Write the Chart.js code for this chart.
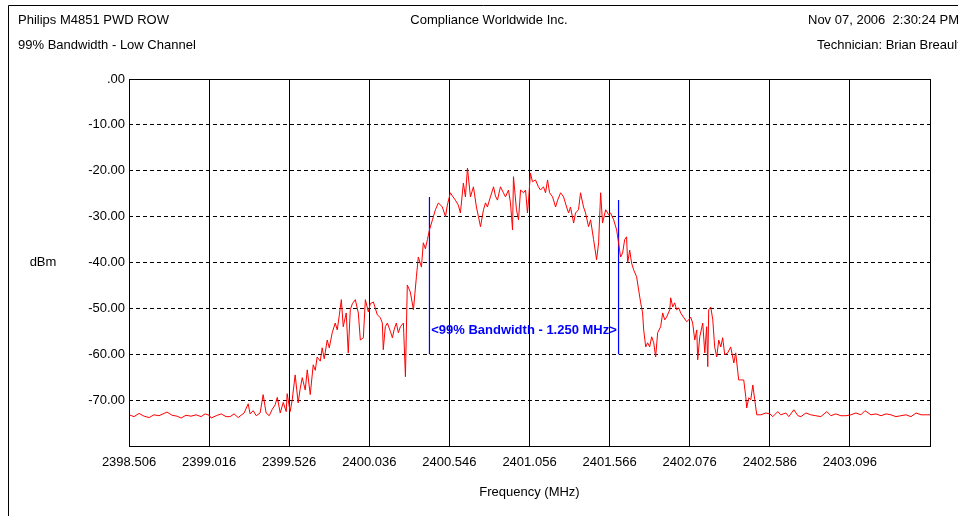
<!DOCTYPE html>
<html>
<head>
<meta charset="utf-8">
<script src="https://cdn.jsdelivr.net/npm/chart.js@4.4.0/dist/chart.umd.min.js"></script>
<style>
  html, body { margin: 0; padding: 0; background: #ffffff; }
  #wrap { width: 958px; height: 516px; position: relative; }
</style>
</head>
<body>
<div id="wrap"><canvas id="c" width="958" height="516"></canvas></div>
<script>
// ---------- data ----------
const freqMHz = [
  2398.506,2398.538,2398.570,2398.602,2398.634,2398.665,2398.697,2398.729,2398.748,2398.780,2398.812,2398.838,2398.869,2398.901,2398.933,2398.965,2398.991,
  2399.016,2399.029,2399.061,2399.093,2399.124,2399.150,2399.175,2399.201,2399.220,2399.239,2399.265,2399.277,2399.297,2399.316,2399.341,2399.360,2399.379,2399.399,2399.418,2399.437,2399.450,2399.469,2399.488,2399.507,2399.513,
  2399.532,2399.545,2399.564,2399.583,2399.596,2399.609,2399.628,2399.641,2399.660,2399.679,2399.692,2399.704,2399.724,2399.736,2399.749,2399.768,2399.781,2399.800,2399.819,2399.832,2399.845,2399.858,2399.870,2399.889,2399.902,2399.915,2399.928,2399.947,2399.966,2399.979,2399.998,2400.011,2400.030,2400.042,
  2400.062,2400.087,2400.106,2400.119,2400.125,2400.138,2400.151,2400.170,2400.183,2400.195,2400.208,2400.221,2400.234,2400.253,2400.266,2400.278,2400.297,2400.317,2400.336,2400.348,2400.368,2400.380,2400.393,2400.406,2400.419,2400.438,2400.457,2400.476,2400.501,2400.521,2400.533,2400.552,
  2400.565,2400.584,2400.603,2400.616,2400.635,2400.648,2400.661,2400.680,2400.699,2400.718,2400.731,2400.744,2400.763,2400.776,2400.788,2400.807,2400.827,2400.839,2400.852,2400.871,2400.890,2400.903,2400.922,2400.935,2400.948,2400.954,2400.973,2400.986,2400.999,2401.018,2401.031,2401.043,2401.050,2401.062,
  2401.075,2401.094,2401.113,2401.126,2401.145,2401.158,2401.171,2401.184,2401.203,2401.222,2401.235,2401.254,2401.273,2401.292,2401.305,2401.317,2401.337,2401.349,2401.368,2401.381,2401.400,2401.413,2401.432,2401.445,2401.464,2401.483,2401.496,2401.509,2401.521,2401.541,2401.560,2401.572,
  2401.592,2401.611,2401.623,2401.636,2401.649,2401.662,2401.674,2401.681,2401.694,2401.706,2401.719,2401.738,2401.751,2401.764,2401.776,2401.783,2401.796,2401.808,2401.821,2401.834,2401.847,2401.859,2401.872,2401.891,2401.904,2401.917,2401.929,2401.949,2401.955,2401.968,2401.980,2401.993,2402.006,2402.019,2402.038,2402.057,2402.070,2402.082,
  2402.095,2402.108,2402.121,2402.127,2402.140,2402.159,2402.172,2402.184,2402.191,2402.197,2402.210,2402.223,2402.235,2402.248,2402.261,2402.274,2402.286,2402.299,2402.318,2402.337,2402.357,2402.369,2402.388,2402.401,2402.420,2402.433,2402.439,2402.452,2402.465,2402.478,2402.490,2402.503,
  2402.529,2402.561,2402.586,2402.605,2402.637,2402.656,2402.688,2402.707,2402.739,2402.765,2402.784,2402.816,2402.847,2402.879,2402.911,2402.949,2402.975,2403.006,2403.039,2403.071,2403.102,2403.134,2403.166,2403.192,2403.230,2403.262,2403.294,2403.326,2403.357,2403.389,2403.421,2403.453,2403.485,2403.517,2403.549,2403.581,2403.606
];
const powerDbm = [
  -73.2,-73.6,-72.9,-73.5,-73.8,-73.2,-73.4,-72.9,-72.6,-73.3,-73.5,-73.9,-73.3,-73.5,-73.2,-73.6,-73.0,
  -73.3,-73.9,-73.4,-73.0,-73.6,-73.6,-73.0,-73.8,-73.3,-72.8,-70.8,-73.0,-72.3,-73.4,-72.8,-68.8,-72.8,-73.4,-72.0,-71.0,-69.4,-72.8,-70.5,-72.5,-68.6,
  -72.5,-70.0,-64.5,-70.6,-67.5,-65.1,-67.8,-63.4,-68.8,-62.3,-63.5,-60.6,-61.5,-58.6,-61.0,-56.9,-58.6,-55.3,-53.2,-54.7,-51.5,-48.1,-54.0,-51.0,-59.7,-50.3,-49.0,-48.1,-51.0,-56.9,-56.4,-48.1,-50.8,-49.0,
  -48.6,-51.4,-52.0,-53.2,-59.0,-54.0,-53.2,-55.0,-56.4,-54.5,-53.2,-55.3,-54.0,-53.2,-64.9,-44.9,-46.4,-50.3,-43.1,-38.8,-41.0,-35.7,-37.0,-35.0,-32.9,-30.7,-28.5,-27.0,-27.9,-30.0,-27.5,-24.8,
  -25.5,-26.4,-27.5,-29.2,-22.7,-25.7,-19.4,-25.7,-23.5,-27.9,-30.0,-32.2,-28.5,-27.0,-27.9,-25.7,-23.5,-25.5,-26.4,-23.5,-24.8,-25.7,-24.2,-27.0,-32.9,-21.3,-28.5,-30.7,-24.2,-24.8,-24.2,-29.2,-26.4,-20.5,
  -22.4,-22.0,-23.5,-24.2,-23.5,-24.8,-22.0,-24.8,-25.7,-27.9,-26.4,-24.8,-25.7,-27.9,-29.2,-27.9,-31.4,-29.2,-28.5,-24.8,-27.9,-29.2,-32.2,-30.7,-35.0,-39.4,-35.7,-24.8,-31.4,-28.5,-29.6,-29.2,
  -30.7,-32.9,-35.7,-38.8,-37.9,-35.0,-34.4,-40.1,-37.3,-40.1,-41.6,-43.1,-46.0,-48.8,-51.0,-54.7,-58.4,-57.5,-58.4,-56.2,-57.5,-60.6,-55.3,-54.0,-51.0,-52.5,-51.9,-50.3,-47.7,-49.7,-48.8,-50.3,-49.9,-51.0,-52.0,-52.9,-52.5,-51.9,
  -53.2,-56.9,-54.7,-61.2,-56.2,-53.2,-59.7,-54.0,-62.7,-50.3,-49.7,-52.5,-58.4,-60.6,-56.9,-58.4,-56.4,-60.1,-59.7,-58.4,-61.9,-59.7,-65.6,-65.6,-65.6,-69.3,-71.7,-69.5,-69.9,-66.7,-69.9,-73.2,
  -73.2,-72.8,-73.0,-73.6,-72.5,-73.2,-72.8,-73.6,-72.1,-73.4,-73.6,-72.8,-73.2,-73.4,-73.6,-72.5,-73.4,-73.0,-73.4,-73.4,-73.2,-72.8,-73.2,-72.3,-73.2,-73.0,-73.4,-73.0,-73.2,-73.6,-73.4,-73.2,-73.6,-72.8,-73.2,-73.2,-73.2
];
const xTickValues = [2398.506, 2399.016, 2399.526, 2400.036, 2400.546, 2401.056, 2401.566, 2402.076, 2402.586, 2403.096, 2403.606];
const xTickLabels = ['2398.506','2399.016','2399.526','2400.036','2400.546','2401.056','2401.566','2402.076','2402.586','2403.096',''];
const yTickValues = [-80, -70, -60, -50, -40, -30, -20, -10, 0];
const yTickLabels = ['', '-70.00', '-60.00', '-50.00', '-40.00', '-30.00', '-20.00', '-10.00', '.00'];
const bwFreqs = [2400.419, 2401.623];
const bwTops = [-25.7, -26.4];
const bwBottom = -60;
const bwLabelLevel = -54.7;
const bwLabel = '<99% Bandwidth - 1.250 MHz>';
const headerLeft = ['Philips M4851 PWD ROW', '99% Bandwidth - Low Channel'];
const headerCenter = 'Compliance Worldwide Inc.';
const headerRight = ['Nov 07, 2006  2:30:24 PM', 'Technician: Brian Breault'];
const yTitle = 'dBm';
const xTitle = 'Frequency (MHz)';

// ---------- chart ----------
const FONT = '"Liberation Sans", Arial, sans-serif';
const n = Math.min(freqMHz.length, powerDbm.length);
const trace = [];
for (let i = 0; i < n; i++) trace.push({ x: freqMHz[i], y: powerDbm[i] });

const decorPlugin = {
  id: 'decor',
  beforeDraw(chart) {
    const ctx = chart.ctx;
    ctx.save();
    ctx.fillStyle = '#ffffff';
    ctx.fillRect(0, 0, chart.width, chart.height);
    // page frame
    ctx.strokeStyle = '#000000';
    ctx.lineWidth = 1;
    ctx.beginPath();
    ctx.moveTo(8.5, chart.height);
    ctx.lineTo(8.5, 5.5);
    ctx.lineTo(chart.width, 5.5);
    ctx.stroke();
    // header texts
    ctx.fillStyle = '#000000';
    ctx.font = '13px ' + FONT;
    ctx.textBaseline = 'middle';
    ctx.textAlign = 'left';
    ctx.fillText(headerLeft[0], 18, 20);
    ctx.fillText(headerLeft[1], 18, 45);
    ctx.fillText(headerRight[0], 808, 20);
    ctx.fillText(headerRight[1], 817, 45);
    ctx.textAlign = 'center';
    const ca = chart.chartArea;
    ctx.fillText(headerCenter, 489, 20);
    // axis titles
    ctx.fillText(yTitle, 43, (ca.top + ca.bottom) / 2);
    ctx.fillText(xTitle, (ca.left + ca.right) / 2, 492);
    ctx.restore();
  },
  afterDraw(chart) {
    const ctx = chart.ctx;
    const ca = chart.chartArea;
    const xs = chart.scales.x, ys = chart.scales.y;
    ctx.save();
    // plot frame
    ctx.strokeStyle = '#000000';
    ctx.lineWidth = 1;
    ctx.strokeRect(Math.round(ca.left) + 0.5, Math.round(ca.top) + 0.5,
                   Math.round(ca.right - ca.left), Math.round(ca.bottom - ca.top));
    // bandwidth label
    const x0 = xs.getPixelForValue(bwFreqs[0]);
    const x1 = xs.getPixelForValue(bwFreqs[1]);
    ctx.fillStyle = '#0000ff';
    ctx.font = 'bold 13px ' + FONT;
    ctx.textAlign = 'center';
    ctx.textBaseline = 'middle';
    ctx.fillText(bwLabel, (x0 + x1) / 2, ys.getPixelForValue(bwLabelLevel));
    ctx.restore();
  }
};

new Chart(document.getElementById('c'), {
  type: 'line',
  data: {
    datasets: [
      { data: trace, borderColor: '#ff0000', borderWidth: 1, pointRadius: 0, tension: 0, fill: false },
      { data: [{ x: bwFreqs[0], y: bwTops[0] }, { x: bwFreqs[0], y: bwBottom }], borderColor: '#0000ff', borderWidth: 1.2, pointRadius: 0, fill: false },
      { data: [{ x: bwFreqs[1], y: bwTops[1] }, { x: bwFreqs[1], y: bwBottom }], borderColor: '#0000ff', borderWidth: 1.2, pointRadius: 0, fill: false }
    ]
  },
  options: {
    responsive: false,
    animation: false,
    devicePixelRatio: 1,
    layout: { padding: { left: 0, right: 28, top: 79, bottom: 0 } },
    plugins: { legend: { display: false }, tooltip: { enabled: false } },
    scales: {
      x: {
        type: 'linear',
        min: xTickValues[0],
        max: xTickValues[xTickValues.length - 1],
        afterBuildTicks(scale) { scale.ticks = xTickValues.map(v => ({ value: v })); },
        afterFit(scale) { scale.height = 70; },
        ticks: {
          autoSkip: false, maxRotation: 0, minRotation: 0, padding: 9,
          color: '#000000', font: { family: FONT, size: 13 },
          callback: (v, i) => xTickLabels[i]
        },
        grid: { color: '#000000', lineWidth: 1, drawTicks: false },
        border: { display: false }
      },
      y: {
        type: 'linear',
        min: yTickValues[0],
        max: yTickValues[yTickValues.length - 1],
        afterBuildTicks(scale) { scale.ticks = yTickValues.map(v => ({ value: v })); },
        afterFit(scale) { scale.width = 129; },
        ticks: {
          padding: 4, color: '#000000', font: { family: FONT, size: 13 },
          callback: (v, i) => yTickLabels[i]
        },
        grid: { color: '#000000', lineWidth: 1, drawTicks: false },
        border: { display: false, dash: [4, 3] }
      }
    }
  },
  plugins: [decorPlugin]
});
</script>
</body>
</html>
